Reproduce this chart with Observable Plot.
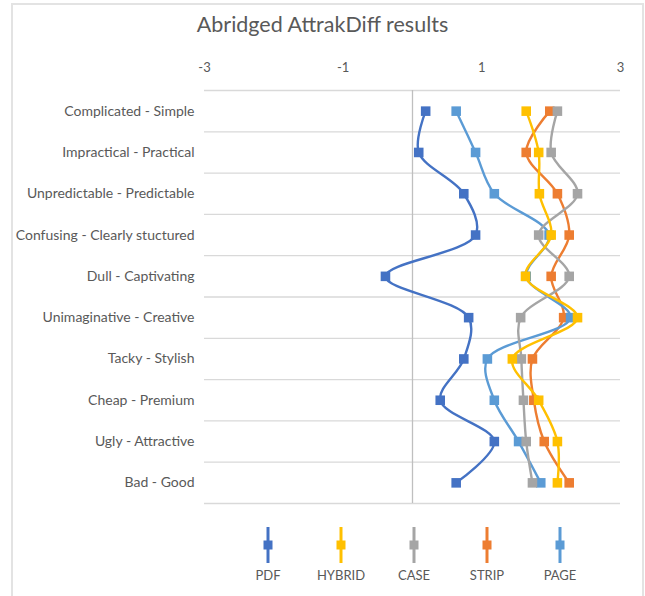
<!DOCTYPE html>
<html>
<head>
<meta charset="utf-8">
<script src="https://cdn.jsdelivr.net/npm/d3@7"></script>
<script src="https://cdn.jsdelivr.net/npm/@observablehq/plot@0.6"></script>
<style>
  html, body { margin: 0; padding: 0; background: #fff; width: 645px; height: 596px; overflow: hidden; }
  #frame { position: absolute; left: 11px; top: 3px; width: 633px; height: 600px; border: 2px solid #e3e3e3; box-sizing: border-box; }
  #title { position: absolute; left: 0; top: 11px; width: 645px; text-align: center; font-family: Lato, "Open Sans", sans-serif; font-size: 21.5px; color: #595959; }
  #chart { position: absolute; left: 0; top: 50px; }
  #legend { position: absolute; left: 0; top: 523px; width: 645px; height: 70px; }
  .item { position: absolute; top: 0; width: 70px; margin-left: -35px; text-align: center; font-family: Lato, "Open Sans", sans-serif; font-size: 13px; color: #595959; }
  .item svg { display: block; margin: 0 auto; }
  .item div { margin-top: 2px; }
</style>
</head>
<body>
<div id="frame"></div>
<div id="title">Abridged AttrakDiff results</div>
<div id="chart"></div>
<div id="legend"></div>
<script>
const categories = [
  "Complicated - Simple",
  "Impractical - Practical",
  "Unpredictable - Predictable",
  "Confusing - Clearly stuctured",
  "Dull - Captivating",
  "Unimaginative - Creative",
  "Tacky - Stylish",
  "Cheap - Premium",
  "Ugly - Attractive",
  "Bad - Good"
];
const seriesNames = ["PDF", "HYBRID", "CASE", "STRIP", "PAGE"];
const seriesColors = ["#4472C4", "#FFC000", "#A5A5A5", "#ED7D31", "#5B9BD5"];
const PDF    = [0.19, 0.09, 0.74, 0.91, -0.39, 0.81, 0.74, 0.40, 1.18, 0.63];
const HYBRID = [1.64, 1.82, 1.83, 2.00, 1.63, 2.38, 1.44, 1.82, 2.09, 2.09];
const CASE   = [2.09, 2.00, 2.38, 1.82, 2.26, 1.56, 1.57, 1.60, 1.64, 1.73];
const STRIP  = [1.98, 1.64, 2.09, 2.26, 2.00, 2.18, 1.73, 1.75, 1.90, 2.26];
const PAGE   = [0.63, 0.91, 1.18, 1.97, 1.64, 2.28, 1.08, 1.18, 1.53, 1.85];
const xTicks = [-3, -1, 1, 3];

const valuesBySeries = {PDF, HYBRID, CASE, STRIP, PAGE};
const drawOrder = ["STRIP", "PAGE", "PDF", "CASE", "HYBRID"];

const rows = [];
for (const s of seriesNames) {
  valuesBySeries[s].forEach((v, i) => rows.push({series: s, idx: i, value: v}));
}

const grid = d3.range(-0.5, categories.length, 1);

const marks = [
  Plot.ruleY(grid, {x1: -3, x2: 3, stroke: "#d9d9d9", strokeWidth: 1.3}),
  Plot.ruleX([0], {y1: -0.5, y2: 9.5, stroke: "#bfbfbf", strokeWidth: 1.3}),
  Plot.axisX({anchor: "top", ticks: xTicks, tickSize: 0, tickPadding: 19, label: null,
              fontSize: 13, fill: "#595959", tickFormat: d => d < 0 ? "-" + Math.abs(d) : String(d)}),
  Plot.axisY({ticks: d3.range(categories.length), tickSize: 0, tickPadding: 10, label: null,
              fontSize: 14, fill: "#595959", tickFormat: i => categories[i]})
];
for (const s of drawOrder) {
  const d = rows.filter(r => r.series === s);
  marks.push(Plot.line(d, {x: "value", y: "idx", stroke: "series", strokeWidth: 2.4, curve: "catmull-rom"}));
  marks.push(Plot.dot(d, {x: "value", y: "idx", fill: "series", symbol: "square", r: 5.4, stroke: "none"}));
}

const chart = Plot.plot({
  width: 645,
  height: 463,
  marginLeft: 204,
  marginRight: 25,
  marginTop: 40,
  marginBottom: 10,
  style: {fontFamily: "Lato, 'Open Sans', sans-serif", fontSize: "13px", color: "#595959", background: "transparent"},
  x: {domain: [-3, 3]},
  y: {domain: [-0.5, 9.5], reverse: true},
  color: {domain: seriesNames, range: seriesColors},
  marks
});
document.getElementById("chart").appendChild(chart);

const legendX = [268, 341, 414, 487, 560];
const legend = document.getElementById("legend");
seriesNames.forEach((s, i) => {
  const div = document.createElement("div");
  div.className = "item";
  div.style.left = legendX[i] + "px";
  const c = seriesColors[i];
  div.innerHTML = `<svg width="14" height="42"><line x1="7" x2="7" y1="4" y2="40" stroke="${c}" stroke-width="3"/><rect x="2.5" y="17.5" width="9" height="9" fill="${c}"/></svg><div>${s}</div>`;
  legend.appendChild(div);
});
</script>
</body>
</html>
